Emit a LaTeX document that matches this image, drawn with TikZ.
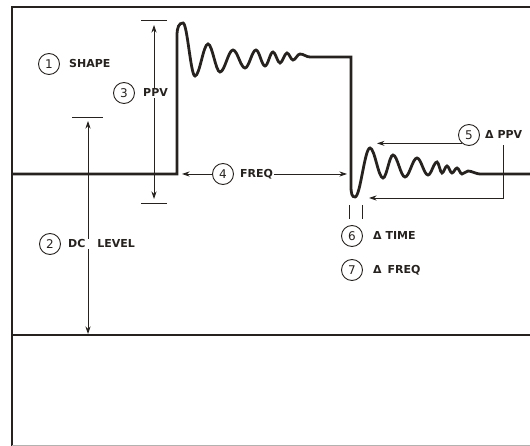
\documentclass[tikz,border=0pt]{standalone}
\usepackage{fontspec}
\setmainfont{DejaVu Sans}
\usetikzlibrary{arrows.meta}
\definecolor{ink}{RGB}{38,34,32}
\begin{document}
\begin{tikzpicture}[x=1pt,y=-1pt,
  num/.style={circle,draw=ink,line width=0.9pt,minimum size=21pt,inner sep=0pt,text=ink,font=\fontsize{12}{14}\selectfont},
  lbl/.style={anchor=west,inner sep=1pt,fill=white,text=ink,font=\bfseries\fontsize{11}{13}\selectfont,text height=8pt,text depth=0pt},
  wave/.style={draw=ink,line width=2.8pt},
  frame/.style={draw=ink,line width=1.8pt},
  dim/.style={draw=ink,line width=0.8pt},
  arr/.style={dim,-{Stealth[length=7.5pt,width=5pt]}},
  darr/.style={dim,{Stealth[length=7.5pt,width=5pt]}-{Stealth[length=7.5pt,width=5pt]}}]
\useasboundingbox (0,0) rectangle (530,446);
% frame and reference lines
\draw[frame] (12,446) -- (12,7) -- (530,7);
\draw[draw=ink,line width=1.2pt] (12,335) -- (530,335);
\draw[draw=ink!35,line width=0.6pt] (12,445.3) -- (530,445.3);
% waveform
\draw[wave] (12,174) -- (177,174) -- (177,36)
  .. controls (177,27) and (179,23) .. (183,23)
  .. controls +(4.3,0) and +(-4.3,0) .. (195,76)
  .. controls +(4.7,0) and +(-4.7,0) .. (208,44)
  .. controls +(4.3,0) and +(-4.3,0) .. (220,72)
  .. controls +(4.7,0) and +(-4.7,0) .. (233,50)
  .. controls +(4.3,0) and +(-4.3,0) .. (245,68)
  .. controls +(4,0) and +(-4,0) .. (256,50)
  .. controls +(3.2,0) and +(-3.2,0) .. (265,66)
  .. controls +(2.9,0) and +(-2.9,0) .. (273,52)
  .. controls +(2.5,0) and +(-2.5,0) .. (280,63)
  .. controls +(2.5,0) and +(-2.5,0) .. (287,53)
  .. controls +(2.2,0) and +(-2.2,0) .. (293,60)
  .. controls +(2.5,0) and +(-2.5,0) .. (300,54)
  .. controls +(3.6,0) and +(-3.6,0) .. (310,57)
  -- (351,57) -- (351,186)
  .. controls (351,194) and (352,197) .. (355,197)
  .. controls +(5.4,0) and +(-5.4,0) .. (370,148)
  .. controls +(4.7,0) and +(-4.7,0) .. (383,178)
  .. controls +(3.6,0) and +(-3.6,0) .. (393,155)
  .. controls +(4.3,0) and +(-4.3,0) .. (405,177)
  .. controls +(4.3,0) and +(-4.3,0) .. (417,158)
  .. controls +(4,0) and +(-4,0) .. (428,175)
  .. controls +(3.2,0) and +(-3.2,0) .. (437,162)
  .. controls +(1.8,0) and +(-1.8,0) .. (442,173)
  .. controls +(1.8,0) and +(-1.8,0) .. (447,166)
  .. controls +(1.8,0) and +(-1.8,0) .. (452,173)
  .. controls +(1.8,0) and +(-1.8,0) .. (457,168)
  .. controls +(1.8,0) and +(-1.8,0) .. (462,174)
  .. controls +(2.2,0) and +(-2.2,0) .. (468,171)
  .. controls +(4,0) and +(-4,0) .. (480,174)
  -- (530,174);
% PPV dimension
\draw[dim] (141,20) -- (167,20);
\draw[dim] (141,203) -- (167,203);
\coordinate (a3t) at (154,25);
\coordinate (a3b) at (154,199);
\draw[darr] (a3t) -- (a3b);
% DC level dimension
\draw[dim] (72,117) -- (103,117);
\coordinate (a2t) at (88,121);
\coordinate (a2b) at (88,334);
\draw[darr] (a2t) -- (a2b);
% delta time ticks
\draw[dim,line width=1pt] (349,205) -- (349,219);
\draw[dim,line width=1pt] (362,205) -- (362,219);
% labels
\node[num] (c1) at (49,64) {1};
\node[lbl] (l1) at (68,64) {SHAPE};
\node[num] (c3) at (124,93) {3};
\node[lbl] (l3) at (142,93) {PPV};
\node[num] (c2) at (50,244) {2};
\node[lbl] (l2) at (67,244) {DC\hspace{12pt}LEVEL};
\node[num] (c4) at (223,174) {4};
\node[lbl] (l4) at (239,174) {FREQ};
\node[num] (c5) at (469,135) {5};
\node[lbl] (l5) at (484,135) {Δ PPV};
\node[num] (c6) at (352,236) {6};
\node[lbl] (l6) at (372,236) {Δ TIME};
\node[num] (c7) at (352,270) {7};
\node[lbl] (l7) at (372,270) {Δ\hspace{6pt}FREQ};
% freq arrows
\coordinate (t4a) at (182,174);
\coordinate (t4b) at (347,174);
\draw[arr] (c4.west) -- (t4a);
\draw[arr] (l4.east) -- (t4b);
% delta ppv arrows
\coordinate (t5a) at (377,143);
\coordinate (t5b) at (369,198);
\draw[arr] (c5.230) -- (c5.230 -| t5a);
\draw[arr] ([yshift=-5pt]l5.south) |- (t5b);
\end{tikzpicture}
\end{document}
